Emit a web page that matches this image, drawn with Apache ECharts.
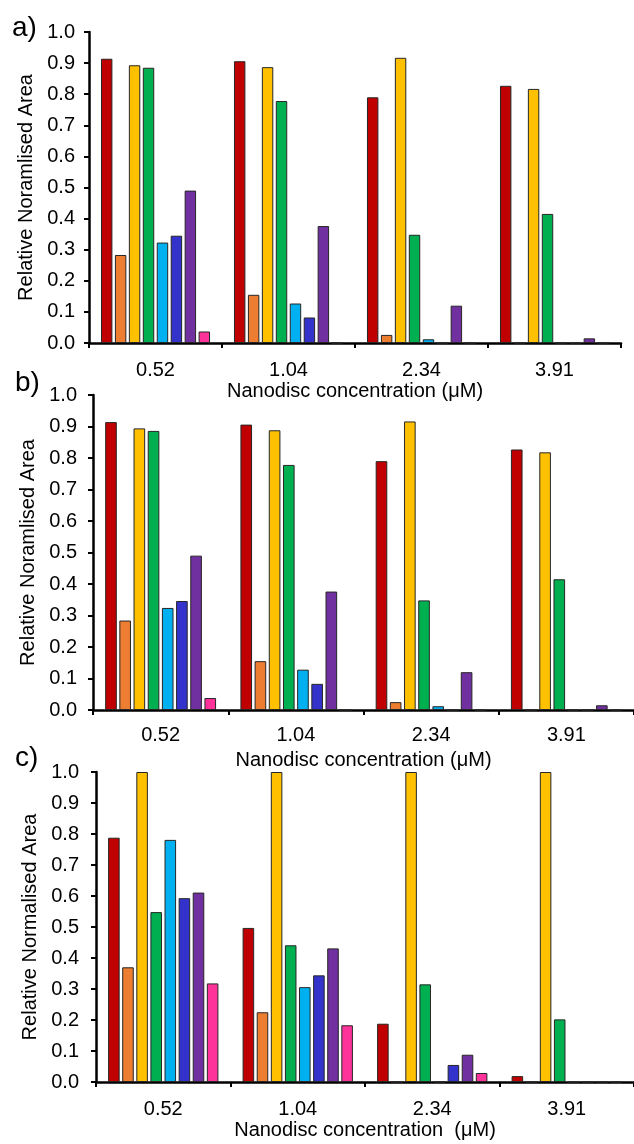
<!DOCTYPE html>
<html>
<head>
<meta charset="utf-8">
<script src="https://cdn.jsdelivr.net/npm/echarts@6/dist/echarts.min.js"></script>
<style>
html,body{margin:0;padding:0;background:#fff;}
#chart{width:634px;height:1144px;}
</style>
</head>
<body>
<div id="chart"></div>
<script>
// ---- data ----
const categories = ['0.52', '1.04', '2.34', '3.91'];
const yTicks = [0, 0.1, 0.2, 0.3, 0.4, 0.5, 0.6, 0.7, 0.8, 0.9, 1.0];
const seriesColors = ['#C00000', '#ED7D31', '#FFC000', '#00B050', '#00B0F0', '#3333CC', '#7030A0', '#FF3399'];

// panel a)
const aRed    = [0.914, 0.906, 0.790, 0.827];
const aOrange = [0.283, 0.155, 0.026, 0];
const aYellow = [0.893, 0.887, 0.917, 0.817];
const aGreen  = [0.885, 0.778, 0.348, 0.415];
const aCyan   = [0.323, 0.127, 0.012, 0];
const aBlue   = [0.345, 0.082, 0, 0];
const aPurple = [0.490, 0.376, 0.120, 0.015];
const aPink   = [0.037, 0, 0, 0];

// panel b)
const bRed    = [0.914, 0.906, 0.790, 0.827];
const bOrange = [0.284, 0.155, 0.025, 0];
const bYellow = [0.894, 0.888, 0.916, 0.818];
const bGreen  = [0.886, 0.778, 0.348, 0.415];
const bCyan   = [0.324, 0.128, 0.012, 0];
const bBlue   = [0.346, 0.083, 0, 0];
const bPurple = [0.490, 0.376, 0.120, 0.015];
const bPink   = [0.038, 0, 0, 0];

// panel c)
const cRed    = [0.788, 0.497, 0.188, 0.019];
const cOrange = [0.370, 0.225, 0, 0];
const cYellow = [1.0, 1.0, 1.0, 1.0];
const cGreen  = [0.548, 0.441, 0.315, 0.202];
const cCyan   = [0.781, 0.306, 0, 0];
const cBlue   = [0.593, 0.344, 0.055, 0];
const cPurple = [0.611, 0.431, 0.088, 0];
const cPink   = [0.318, 0.183, 0.029, 0];

const panelA = [aRed, aOrange, aYellow, aGreen, aCyan, aBlue, aPurple, aPink];
const panelB = [bRed, bOrange, bYellow, bGreen, bCyan, bBlue, bPurple, bPink];
const panelC = [cRed, cOrange, cYellow, cGreen, cCyan, cBlue, cPurple, cPink];

const xTitleA = 'Nanodisc concentration (μM)';
const xTitleB = 'Nanodisc concentration (μM)';
const xTitleC = 'Nanodisc concentration  (μM)';
const yTitleA = 'Relative Noramlised Area';
const yTitleB = 'Relative Noramlised Area';
const yTitleC = 'Relative Normalised Area';

// ---- chart ----
const FONT = "'Liberation Sans', Arial, sans-serif";
const TXT = '#000';

const grids = [
  {left: 89, top: 32, width: 532, height: 311},
  {left: 93, top: 395, width: 544, height: 315},
  {left: 96, top: 772, width: 544, height: 310}
];
const xMeta = [
  {title: xTitleA, labelMargin: 17, nameGap: 38},
  {title: xTitleB, labelMargin: 15, nameGap: 40},
  {title: xTitleC, labelMargin: 17, nameGap: 38}
];
const yMeta = [
  {title: yTitleA, labelMargin: 14, nameGap: 43},
  {title: yTitleB, labelMargin: 16, nameGap: 47},
  {title: yTitleC, labelMargin: 17, nameGap: 48}
];

const axisLine = {show: true, lineStyle: {color: '#000', width: 2.5}};

const xAxes = xMeta.map((m, i) => ({
  type: 'category', gridIndex: i, data: categories,
  axisLine: axisLine,
  axisTick: {show: true, length: 5, inside: false, lineStyle: {color: '#000', width: 2}},
  axisLabel: {fontFamily: FONT, fontSize: 20, color: TXT, margin: m.labelMargin},
  name: m.title, nameLocation: 'middle', nameGap: m.nameGap,
  nameTextStyle: {fontFamily: FONT, fontSize: 20, color: TXT},
  splitLine: {show: false}
}));

const yAxes = yMeta.map((m, i) => ({
  type: 'value', gridIndex: i,
  min: yTicks[0], max: yTicks[yTicks.length - 1], interval: 0.1,
  axisLine: axisLine,
  axisTick: {show: true, length: 5, lineStyle: {color: '#000', width: 2}},
  axisLabel: {fontFamily: FONT, fontSize: 20, color: TXT, margin: m.labelMargin,
    formatter: v => v.toFixed(1)},
  splitLine: {show: false},
  name: m.title, nameLocation: 'middle', nameRotate: 90, nameGap: m.nameGap,
  nameTextStyle: {fontFamily: FONT, fontSize: 20, color: TXT}
}));

const series = [];
[panelA, panelB, panelC].forEach((panel, p) => {
  panel.forEach((vals, s) => {
    series.push({
      type: 'bar', xAxisIndex: p, yAxisIndex: p,
      data: vals,
      barCategoryGap: '18%', barGap: '22%',
      itemStyle: {color: seriesColors[s], borderColor: '#262626', borderWidth: 1},
      emphasis: {disabled: true},
      clip: true
    });
  });
});

const panelLabels = [
  {text: 'a)', x: 12, y: 30},
  {text: 'b)', x: 15, y: 385},
  {text: 'c)', x: 15, y: 760}
];

const chart = echarts.init(document.getElementById('chart'), null, {renderer: 'canvas'});
chart.setOption({
  backgroundColor: '#fff',
  animation: false,
  grid: grids,
  xAxis: xAxes,
  yAxis: yAxes,
  series: series,
  graphic: panelLabels.map(l => ({
    type: 'text', left: l.x, top: l.y - 16,
    style: {text: l.text, font: "28px 'Liberation Sans', Arial, sans-serif", fill: '#000'}
  }))
});
</script>
</body>
</html>
